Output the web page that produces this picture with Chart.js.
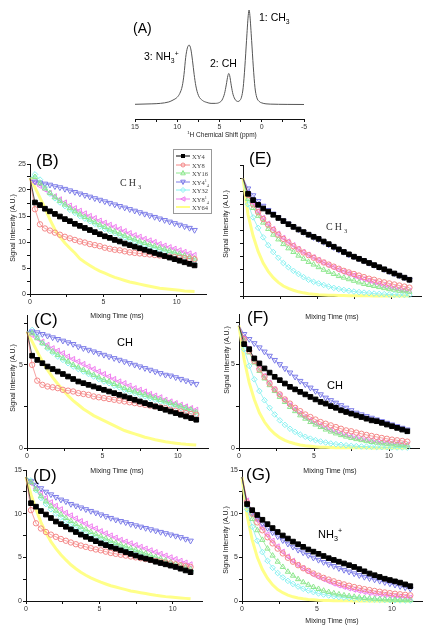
<!DOCTYPE html>
<html>
<head>
<meta charset="utf-8">
<script src="https://cdn.jsdelivr.net/npm/chart.js@4/dist/chart.umd.min.js"></script>
<style>
  body { margin: 0; background: #fff; width: 435px; height: 636px; position: relative; overflow: hidden;
         font-family: "Liberation Sans", Arial, sans-serif; }
  canvas { position: absolute; }
  .t { position: absolute; white-space: nowrap; color: #000; line-height: 1; }
  .lbl { font-size: 17px; }
  .serif { font-family: "Liberation Serif", "Times New Roman", serif; }
  .yt { position: absolute; white-space: nowrap; font-size: 7px; color: #222; transform: translate(-50%, -50%) rotate(-90deg); }
  .xt { position: absolute; white-space: nowrap; font-size: 7px; color: #222; transform: translateX(-50%); }
  .legend { position: absolute; left: 173px; top: 149px; width: 37px; height: 63px; border: 1px solid #999; background: #fff; }
  .row { position: absolute; left: 2px; height: 8px; font-size: 6.5px; color: #444; }
  .row svg { position: absolute; left: 0; top: 0; }
  .row span { position: absolute; left: 16px; top: 1px; white-space: nowrap; }
  sub, sup { font-size: 65%; line-height: 0; }
</style>
</head>
<body>
<script>
// spectrum (A)
const shiftPpm = [15, 13, 12, 11, 10.5, 10, 9.7, 9.4, 9.2, 9.0, 8.8, 8.6, 8.4, 8.2, 8.0, 7.8, 7.5, 7.0, 6.5, 6.0,
  5.5, 5.0, 4.7, 4.4, 4.2, 4.0, 3.9, 3.8, 3.6, 3.4, 3.1, 2.8, 2.6, 2.4, 2.2, 2.0, 1.8, 1.6, 1.5, 1.4,
  1.2, 1.0, 0.8, 0.6, 0.3, 0, -0.5, -1, -2, -3, -5];
const spectrum = [0.005, 0.01, 0.015, 0.03, 0.05, 0.08, 0.12, 0.2, 0.32, 0.5, 0.6, 0.63, 0.59, 0.47, 0.32, 0.2, 0.1, 0.045, 0.025, 0.015,
  0.015, 0.025, 0.05, 0.12, 0.21, 0.31, 0.33, 0.31, 0.2, 0.11, 0.05, 0.035, 0.045, 0.08, 0.18, 0.4, 0.68, 0.94, 1.0, 0.94,
  0.68, 0.4, 0.18, 0.08, 0.035, 0.02, 0.01, 0.007, 0.005, 0.004, 0.003];

// mixing times (ms)
const mixTime = [0, 0.34, 0.68, 1.02, 1.36, 1.70, 2.04, 2.38, 2.72, 3.06, 3.40, 3.74, 4.08, 4.42, 4.76, 5.10, 5.44,
  5.78, 6.12, 6.46, 6.80, 7.14, 7.48, 7.82, 8.16, 8.50, 8.84, 9.18, 9.52, 9.86, 10.20, 10.54, 10.88, 11.22];

const seriesNames = ["XY4", "XY8", "XY16", "XY4\u00b9\u2084", "XY32", "XY8\u00b9\u2084", "XY64"];

// (B) CH3
const B_XY4  = [22.3, 17.6, 17.1, 16.4, 15.9, 15.4, 14.9, 14.4, 14.0, 13.5, 13.1, 12.7, 12.3, 11.9, 11.5, 11.1, 10.8, 10.4, 10.1, 9.7, 9.4, 9.1, 8.8, 8.5, 8.2, 7.9, 7.6, 7.3, 7.0, 6.7, 6.4, 6.1, 5.8, 5.5];
const B_XY8  = [22.0, 16.3, 13.4, 12.6, 12.2, 11.8, 11.4, 11.0, 10.7, 10.4, 10.1, 9.9, 9.6, 9.4, 9.2, 8.9, 8.7, 8.5, 8.4, 8.2, 8.0, 7.9, 7.8, 7.7, 7.6, 7.5, 7.4, 7.3, 7.2, 7.1, 7.0, 6.9, 6.8, 6.7];
const B_XY16 = [22.3, 22.5, 21.3, 20.3, 19.4, 18.6, 17.9, 17.2, 16.5, 15.9, 15.3, 14.8, 14.3, 13.8, 13.3, 12.9, 12.4, 12.0, 11.6, 11.2, 10.8, 10.5, 10.1, 9.8, 9.5, 9.2, 8.9, 8.6, 8.3, 8.0, 7.7, 7.4, 7.1, 6.8];
const B_XY41 = [22.0, 21.6, 21.4, 21.2, 21.0, 20.7, 20.5, 20.2, 19.9, 19.6, 19.3, 19.0, 18.7, 18.4, 18.1, 17.8, 17.5, 17.2, 16.9, 16.6, 16.3, 16.0, 15.7, 15.4, 15.1, 14.8, 14.5, 14.2, 13.9, 13.6, 13.3, 13.0, 12.7, 12.3];
const B_XY32 = [22.3, 23.0, 22.0, 20.5, 19.3, 18.4, 17.6, 16.9, 16.2, 15.6, 15.0, 14.5, 14.0, 13.5, 13.0, 12.5, 12.1, 11.7, 11.3, 10.9, 10.5, 10.1, 9.8, 9.5, 9.1, 8.8, 8.5, 8.2, 7.9, 7.6, 7.3, 7.0, 6.7, 6.4];
const B_XY81 = [22.0, 21.5, 20.8, 20.1, 19.4, 18.8, 18.2, 17.6, 17.0, 16.5, 16.0, 15.5, 15.0, 14.6, 14.1, 13.7, 13.3, 12.9, 12.5, 12.1, 11.7, 11.3, 11.0, 10.6, 10.3, 10.0, 9.6, 9.3, 9.0, 8.7, 8.4, 8.1, 7.8, 7.5];
const B_XY64 = [22.3, 20.5, 18.5, 16.5, 14.3, 12.4, 11.0, 9.8, 8.8, 7.9, 6.8, 6.1, 5.5, 4.9, 4.4, 4.0, 3.6, 3.2, 2.9, 2.6, 2.3, 2.1, 1.9, 1.7, 1.5, 1.3, 1.1, 1.0, 0.9, 0.8, 0.7, 0.6, 0.55, 0.5];

// (C) CH
const C_XY4  = [7.0, 5.55, 5.3, 5.1, 4.9, 4.75, 4.6, 4.45, 4.3, 4.15, 4.0, 3.9, 3.8, 3.7, 3.6, 3.5, 3.4, 3.3, 3.2, 3.1, 3.0, 2.9, 2.8, 2.7, 2.6, 2.5, 2.4, 2.3, 2.2, 2.1, 2.0, 1.9, 1.8, 1.7];
const C_XY8  = [7.0, 5.0, 4.05, 3.8, 3.7, 3.65, 3.6, 3.5, 3.45, 3.4, 3.3, 3.25, 3.2, 3.1, 3.05, 3.0, 2.95, 2.9, 2.85, 2.8, 2.75, 2.7, 2.65, 2.6, 2.55, 2.5, 2.45, 2.4, 2.3, 2.25, 2.2, 2.1, 2.05, 2.0];
const C_XY16 = [7.0, 6.9, 6.6, 6.3, 6.05, 5.8, 5.6, 5.4, 5.2, 5.0, 4.85, 4.7, 4.55, 4.4, 4.25, 4.1, 4.0, 3.85, 3.75, 3.6, 3.5, 3.4, 3.3, 3.2, 3.1, 3.0, 2.9, 2.8, 2.7, 2.6, 2.5, 2.4, 2.3, 2.15];
const C_XY41 = [7.0, 7.0, 6.95, 6.85, 6.75, 6.65, 6.55, 6.45, 6.35, 6.25, 6.1, 6.0, 5.9, 5.8, 5.7, 5.6, 5.5, 5.4, 5.3, 5.2, 5.1, 5.0, 4.9, 4.8, 4.7, 4.6, 4.5, 4.4, 4.35, 4.25, 4.15, 4.05, 3.95, 3.85];
const C_XY32 = [7.0, 7.1, 6.7, 6.3, 6.0, 5.75, 5.5, 5.3, 5.1, 4.9, 4.75, 4.6, 4.45, 4.3, 4.15, 4.0, 3.9, 3.75, 3.65, 3.5, 3.4, 3.3, 3.2, 3.1, 3.0, 2.9, 2.8, 2.7, 2.6, 2.5, 2.4, 2.3, 2.2, 2.05];
const C_XY81 = [7.0, 6.8, 6.6, 6.4, 6.2, 6.0, 5.85, 5.7, 5.5, 5.35, 5.2, 5.05, 4.9, 4.75, 4.6, 4.45, 4.3, 4.15, 4.0, 3.9, 3.75, 3.6, 3.5, 3.4, 3.25, 3.15, 3.05, 2.9, 2.8, 2.7, 2.6, 2.5, 2.4, 2.3];
const C_XY64 = [7.0, 6.4, 5.8, 5.2, 4.7, 4.25, 3.85, 3.5, 3.15, 2.85, 2.6, 2.35, 2.15, 1.95, 1.8, 1.65, 1.5, 1.35, 1.2, 1.05, 0.95, 0.85, 0.75, 0.65, 0.58, 0.5, 0.44, 0.38, 0.33, 0.29, 0.25, 0.22, 0.2, 0.18];

// (D) NH3+
const D_XY4  = [14.2, 11.2, 10.8, 10.3, 9.9, 9.5, 9.1, 8.8, 8.5, 8.2, 7.9, 7.6, 7.35, 7.1, 6.85, 6.6, 6.4, 6.2, 6.0, 5.8, 5.6, 5.4, 5.2, 5.0, 4.85, 4.7, 4.5, 4.35, 4.2, 4.05, 3.9, 3.7, 3.5, 3.3];
const D_XY8  = [14.2, 10.4, 8.9, 8.3, 7.9, 7.6, 7.35, 7.1, 6.9, 6.7, 6.5, 6.35, 6.2, 6.05, 5.9, 5.8, 5.65, 5.5, 5.4, 5.3, 5.2, 5.1, 5.0, 4.9, 4.8, 4.7, 4.6, 4.5, 4.4, 4.3, 4.2, 4.1, 4.0, 3.9];
const D_XY16 = [14.2, 13.6, 12.8, 12.0, 11.4, 10.85, 10.35, 9.9, 9.5, 9.15, 8.8, 8.5, 8.2, 7.9, 7.65, 7.4, 7.15, 6.9, 6.65, 6.45, 6.25, 6.05, 5.85, 5.65, 5.45, 5.25, 5.05, 4.85, 4.65, 4.45, 4.25, 4.05, 3.85, 3.65];
const D_XY41 = [14.2, 13.7, 13.3, 12.9, 12.5, 12.2, 11.9, 11.6, 11.4, 11.1, 10.9, 10.7, 10.5, 10.3, 10.1, 9.9, 9.7, 9.5, 9.3, 9.15, 9.0, 8.8, 8.65, 8.5, 8.35, 8.2, 8.05, 7.9, 7.75, 7.6, 7.45, 7.3, 7.1, 6.9];
const D_XY32 = [14.2, 13.8, 12.7, 11.8, 11.1, 10.5, 10.0, 9.55, 9.15, 8.8, 8.45, 8.15, 7.85, 7.55, 7.3, 7.05, 6.8, 6.55, 6.35, 6.15, 5.95, 5.75, 5.55, 5.35, 5.15, 4.95, 4.75, 4.6, 4.4, 4.2, 4.0, 3.8, 3.6, 3.4];
const D_XY81 = [14.2, 13.5, 12.9, 12.3, 11.8, 11.3, 10.9, 10.5, 10.1, 9.8, 9.45, 9.15, 8.85, 8.55, 8.3, 8.0, 7.75, 7.5, 7.25, 7.0, 6.8, 6.6, 6.4, 6.2, 6.0, 5.8, 5.6, 5.4, 5.2, 5.0, 4.8, 4.6, 4.4, 4.2];
const D_XY64 = [14.2, 12.2, 10.5, 9.0, 7.8, 6.8, 6.0, 5.3, 4.7, 4.15, 3.7, 3.3, 2.95, 2.65, 2.4, 2.15, 1.95, 1.75, 1.6, 1.45, 1.3, 1.15, 1.05, 0.95, 0.85, 0.75, 0.65, 0.58, 0.5, 0.45, 0.4, 0.35, 0.3, 0.25];

// (E) CH3
const E_XY4  = [22.5, 19.5, 18.3, 17.4, 16.7, 16.1, 15.5, 14.9, 14.3, 13.7, 13.2, 12.7, 12.2, 11.7, 11.3, 10.9, 10.4, 9.9, 9.4, 8.9, 8.4, 7.95, 7.5, 7.1, 6.7, 6.3, 5.9, 5.5, 5.1, 4.7, 4.3, 3.9, 3.5, 3.1];
const E_XY8  = [22.5, 19.3, 17.5, 16.0, 14.7, 13.6, 12.6, 11.7, 10.9, 10.2, 9.5, 8.9, 8.3, 7.8, 7.3, 6.8, 6.4, 6.0, 5.6, 5.2, 4.8, 4.5, 4.2, 3.9, 3.6, 3.3, 3.1, 2.8, 2.6, 2.4, 2.2, 2.0, 1.8, 1.6];
const E_XY16 = [22.5, 18.5, 16.8, 15.3, 14.0, 12.8, 11.7, 10.8, 9.9, 9.1, 8.4, 7.7, 7.1, 6.5, 6.0, 5.5, 5.0, 4.6, 4.2, 3.8, 3.5, 3.2, 2.9, 2.6, 2.3, 2.1, 1.9, 1.7, 1.5, 1.3, 1.2, 1.0, 0.9, 0.8];
const E_XY41 = [22.5, 20.5, 19.2, 18.1, 17.2, 16.4, 15.7, 15.0, 14.4, 13.8, 13.2, 12.7, 12.2, 11.7, 11.2, 10.8, 10.3, 9.8, 9.3, 8.8, 8.4, 7.9, 7.5, 7.1, 6.7, 6.3, 5.9, 5.5, 5.1, 4.7, 4.3, 3.9, 3.5, 3.1];
const E_XY32 = [22.5, 17.5, 15.0, 13.0, 11.2, 9.7, 8.4, 7.3, 6.3, 5.5, 4.8, 4.2, 3.6, 3.1, 2.7, 2.4, 2.1, 1.8, 1.55, 1.35, 1.15, 1.0, 0.85, 0.75, 0.65, 0.55, 0.47, 0.4, 0.35, 0.3, 0.26, 0.22, 0.19, 0.16];
const E_XY81 = [22.5, 19.6, 17.8, 16.2, 14.9, 13.8, 12.8, 11.9, 11.1, 10.4, 9.7, 9.0, 8.4, 7.9, 7.4, 6.9, 6.4, 5.9, 5.5, 5.0, 4.6, 4.25, 3.9, 3.5, 3.2, 2.9, 2.6, 2.3, 2.0, 1.8, 1.55, 1.35, 1.15, 1.0];
const E_XY64 = [22.5, 15.5, 11.5, 8.5, 6.3, 4.7, 3.5, 2.6, 1.9, 1.45, 1.1, 0.8, 0.6, 0.45, 0.35, 0.25, 0.2, 0.15, 0.12, 0.1, 0.08, 0.06, 0.05, 0.04, 0.03, 0.03, 0.02, 0.02, 0.02, 0.01, 0.01, 0.01, 0.01, 0.01];

// (F) CH
const F_XY4  = [7.3, 6.2, 5.9, 5.35, 5.05, 4.75, 4.5, 4.25, 4.05, 3.85, 3.65, 3.5, 3.35, 3.2, 3.05, 2.9, 2.75, 2.65, 2.5, 2.4, 2.25, 2.15, 2.05, 1.95, 1.85, 1.75, 1.65, 1.6, 1.5, 1.4, 1.3, 1.2, 1.1, 1.0];
const F_XY8  = [7.3, 6.5, 5.8, 5.2, 4.7, 4.25, 3.85, 3.5, 3.2, 2.9, 2.65, 2.4, 2.2, 2.0, 1.85, 1.7, 1.55, 1.45, 1.35, 1.25, 1.15, 1.05, 1.0, 0.92, 0.85, 0.78, 0.72, 0.66, 0.6, 0.55, 0.5, 0.46, 0.42, 0.38];
const F_XY16 = [7.3, 6.4, 5.7, 5.1, 4.6, 4.15, 3.75, 3.4, 3.05, 2.75, 2.45, 2.2, 1.95, 1.75, 1.55, 1.4, 1.25, 1.1, 0.98, 0.87, 0.77, 0.68, 0.6, 0.53, 0.47, 0.41, 0.36, 0.32, 0.28, 0.25, 0.22, 0.19, 0.17, 0.15];
const F_XY41 = [7.3, 6.8, 6.5, 6.25, 6.0, 5.75, 5.5, 5.25, 5.0, 4.75, 4.5, 4.25, 4.0, 3.8, 3.6, 3.4, 3.2, 3.0, 2.85, 2.7, 2.55, 2.4, 2.25, 2.1, 2.0, 1.9, 1.8, 1.7, 1.6, 1.5, 1.4, 1.3, 1.2, 1.1];
const F_XY32 = [7.3, 5.9, 4.9, 4.1, 3.4, 2.85, 2.4, 2.0, 1.65, 1.38, 1.15, 0.96, 0.8, 0.67, 0.56, 0.47, 0.39, 0.33, 0.27, 0.23, 0.19, 0.16, 0.13, 0.11, 0.09, 0.08, 0.07, 0.06, 0.05, 0.04, 0.04, 0.03, 0.03, 0.02];
const F_XY81 = [7.3, 6.6, 5.9, 5.3, 4.75, 4.3, 3.9, 3.5, 3.15, 2.85, 2.55, 2.3, 2.05, 1.85, 1.65, 1.5, 1.35, 1.2, 1.08, 0.97, 0.87, 0.78, 0.7, 0.63, 0.56, 0.5, 0.45, 0.4, 0.36, 0.32, 0.29, 0.26, 0.23, 0.2];
const F_XY64 = [7.3, 5.3, 3.9, 2.9, 2.1, 1.55, 1.15, 0.85, 0.62, 0.46, 0.34, 0.25, 0.18, 0.13, 0.1, 0.07, 0.05, 0.04, 0.03, 0.02, 0.02, 0.01, 0.01, 0.01, 0.01, 0.01, 0, 0, 0, 0, 0, 0, 0, 0];

// (G) NH3+
const G_XY4  = [14.2, 11.1, 10.4, 9.85, 9.3, 8.8, 8.35, 7.9, 7.5, 7.15, 6.8, 6.5, 6.2, 5.9, 5.65, 5.4, 5.15, 4.9, 4.7, 4.5, 4.3, 4.1, 3.9, 3.65, 3.4, 3.15, 2.95, 2.75, 2.55, 2.4, 2.25, 2.1, 1.9, 1.7];
const G_XY8  = [14.2, 11.3, 10.0, 9.0, 8.1, 7.3, 6.6, 6.0, 5.45, 4.95, 4.5, 4.1, 3.75, 3.45, 3.15, 2.9, 2.65, 2.45, 2.25, 2.07, 1.9, 1.75, 1.6, 1.48, 1.36, 1.25, 1.15, 1.06, 0.98, 0.9, 0.83, 0.77, 0.71, 0.65];
const G_XY16 = [14.2, 11.0, 9.4, 8.1, 7.0, 6.0, 5.2, 4.5, 3.9, 3.35, 2.9, 2.5, 2.15, 1.85, 1.6, 1.38, 1.18, 1.02, 0.88, 0.76, 0.65, 0.56, 0.48, 0.41, 0.35, 0.3, 0.26, 0.22, 0.19, 0.16, 0.14, 0.12, 0.1, 0.09];
const G_XY41 = [14.2, 11.0, 10.1, 9.5, 8.9, 8.35, 7.85, 7.4, 6.95, 6.55, 6.2, 5.85, 5.55, 5.25, 4.95, 4.7, 4.45, 4.2, 4.0, 3.75, 3.55, 3.35, 3.15, 2.95, 2.75, 2.6, 2.45, 2.3, 2.15, 2.0, 1.85, 1.7, 1.55, 1.4];
const G_XY32 = [14.2, 10.5, 8.5, 6.9, 5.6, 4.6, 3.8, 3.2, 2.7, 2.3, 1.95, 1.65, 1.4, 1.2, 1.02, 0.87, 0.74, 0.63, 0.54, 0.46, 0.39, 0.33, 0.28, 0.24, 0.2, 0.17, 0.15, 0.13, 0.11, 0.09, 0.08, 0.07, 0.06, 0.05];
const G_XY81 = [14.2, 11.5, 10.3, 9.3, 8.4, 7.6, 6.9, 6.25, 5.65, 5.1, 4.6, 4.15, 3.75, 3.4, 3.05, 2.75, 2.5, 2.25, 2.0, 1.8, 1.62, 1.45, 1.3, 1.17, 1.05, 0.94, 0.84, 0.75, 0.67, 0.6, 0.54, 0.48, 0.43, 0.38];
const G_XY64 = [14.2, 9.8, 7.0, 5.0, 3.6, 2.6, 1.85, 1.3, 0.95, 0.68, 0.48, 0.35, 0.25, 0.18, 0.13, 0.09, 0.07, 0.05, 0.04, 0.03, 0.02, 0.02, 0.01, 0.01, 0.01, 0.01, 0, 0, 0, 0, 0, 0, 0, 0];

// one style per sequence (Origin default symbol order), faded like the print
const markStyles = [
  { color: "#000000", line: "rgba(0,0,0,0.8)",       shape: "rect",     rot: 0,   size: 3.3, fill: true,  width: 0.8 },
  { color: "#f48888", line: "rgba(240,110,110,0.8)", shape: "circle",   rot: 0,   size: 2.7, fill: false, width: 0.8 },
  { color: "#8ee88e", line: "rgba(120,220,120,0.8)", shape: "triangle", rot: 0,   size: 3.0, fill: false, width: 0.8 },
  { color: "#7c7ce8", line: "rgba(100,100,225,0.8)", shape: "triangle", rot: 180, size: 3.2, fill: false, width: 0.8 },
  { color: "#88f2f2", line: "rgba(110,235,235,0.8)", shape: "rectRot",  rot: 0,   size: 2.8, fill: false, width: 0.8 },
  { color: "#f07ef0", line: "rgba(235,105,235,0.8)", shape: "triangle", rot: -90, size: 3.0, fill: false, width: 0.8 },
  { color: "#ffff8a", line: "#ffff88",               shape: "triangle", rot: 90,  size: 0,   fill: false, width: 3 }
];

Chart.defaults.font.family = '"Liberation Sans", Arial, sans-serif';
Chart.defaults.font.size = 7;
Chart.defaults.color = "#333";

function makeCanvas(left, top, w, h) {
  const c = document.createElement("canvas");
  c.width = w; c.height = h;
  c.style.left = left + "px"; c.style.top = top + "px";
  c.style.width = w + "px"; c.style.height = h + "px";
  document.body.appendChild(c);
  return c;
}

function seriesSet(list) {
  return list.map((vals, k) => {
    const st = markStyles[k];
    return {
      label: seriesNames[k],
      data: mixTime.map((t, i) => ({ x: t, y: vals[i] })),
      borderColor: st.line,
      pointBorderColor: st.color,
      backgroundColor: st.fill ? st.color : "rgba(255,255,255,0)",
      borderWidth: st.width,
      pointStyle: st.shape,
      pointRotation: st.rot,
      // no symbol on the t = 0 point
      pointRadius: ctx => (ctx.dataIndex === 0 ? 0 : st.size),
      pointBorderWidth: 1,
      tension: 0,
      clip: false
    };
  });
}

function axis(min, max, showLabels, fit) {
  return {
    type: "linear", min: min, max: max,
    afterFit: fit,
    afterBuildTicks: s => { s.ticks = s.ticks.filter(t => Math.abs(t.value % 2.5) < 1e-6); },
    ticks: { stepSize: 2.5, autoSkip: false, maxRotation: 0, padding: 1,
             callback: v => (showLabels && v % 5 === 0) ? v : "" },
    grid: { drawOnChartArea: false, tickLength: 3, color: "#111" },
    border: { color: "#111", width: 1 }
  };
}

// chart area boxes: [left, top, right, bottom]
const panels = [
  { box: [30, 164, 206, 294], yMax: 25, sets: [B_XY4, B_XY8, B_XY16, B_XY41, B_XY32, B_XY81, B_XY64], xl: true,  yl: true },
  { box: [27, 315, 208, 448], yMax: 8,  sets: [C_XY4, C_XY8, C_XY16, C_XY41, C_XY32, C_XY81, C_XY64], xl: true,  yl: true },
  { box: [26, 470, 202, 601], yMax: 15, sets: [D_XY4, D_XY8, D_XY16, D_XY41, D_XY32, D_XY81, D_XY64], xl: true,  yl: true },
  { box: [243, 165, 421, 296], yMax: 25, sets: [E_XY4, E_XY8, E_XY16, E_XY41, E_XY32, E_XY81, E_XY64], xl: false, yl: false },
  { box: [239, 314, 419, 448], yMax: 8,  sets: [F_XY4, F_XY8, F_XY16, F_XY41, F_XY32, F_XY81, F_XY64], xl: true,  yl: true },
  { box: [242, 470, 422, 601], yMax: 15, sets: [G_XY4, G_XY8, G_XY16, G_XY41, G_XY32, G_XY81, G_XY64], xl: true,  yl: true }
];

panels.forEach(p => {
  const [l, t, r, b] = p.box;
  const padL = 30, padT = 8, padR = 8, axH = 16;
  const cv = makeCanvas(l - padL, t - padT, (r - l) + padL + padR, (b - t) + padT + axH);
  new Chart(cv, {
    type: "line",
    data: { datasets: seriesSet(p.sets) },
    options: {
      responsive: false, animation: false,
      layout: { padding: { top: padT, right: padR, left: 0, bottom: 0 } },
      plugins: { legend: { display: false }, tooltip: { enabled: false } },
      scales: {
        x: axis(0, 12, p.xl, s => { s.height = axH; }),
        y: axis(0, p.yMax, p.yl, s => { s.width = padL; })
      }
    }
  });
});

// (A) spectrum
(function () {
  const cv = makeCanvas(105, 2, 230, 140);
  const xa = axis(-5, 15, true, s => { s.height = 23; });
  xa.reverse = true;
  new Chart(cv, {
    type: "line",
    data: { datasets: [{
      data: shiftPpm.map((x, i) => ({ x: x, y: spectrum[i] })),
      borderColor: "#555", borderWidth: 1, pointRadius: 0,
      cubicInterpolationMode: "monotone"
    }] },
    options: {
      responsive: false, animation: false,
      layout: { padding: { top: 8, right: 31, left: 30, bottom: 0 } },
      plugins: { legend: { display: false }, tooltip: { enabled: false } },
      scales: { x: xa, y: { display: false, min: -0.15, max: 1.0 } }
    }
  });
})();
</script>

<!-- panel A text -->
<div class="t" style="left:133px;top:21px;font-size:14px;">(A)</div>
<div class="t" style="left:144px;top:51px;font-size:10.5px;">3: NH<sub>3</sub><sup>+</sup></div>
<div class="t" style="left:210px;top:58px;font-size:10.5px;">2: CH</div>
<div class="t" style="left:259px;top:12px;font-size:10.5px;">1: CH<sub>3</sub></div>
<div class="xt" style="left:222px;top:131px;font-size:6.5px;"><sup>1</sup>H Chemical Shift (ppm)</div>

<!-- panel letters -->
<div class="t lbl" style="left:36px;top:152px;">(B)</div>
<div class="t lbl" style="left:34px;top:311px;">(C)</div>
<div class="t lbl" style="left:33px;top:467px;">(D)</div>
<div class="t lbl" style="left:249px;top:150px;">(E)</div>
<div class="t lbl" style="left:247px;top:309px;">(F)</div>
<div class="t lbl" style="left:246px;top:466px;">(G)</div>

<!-- group labels -->
<div class="t serif" style="left:120px;top:178px;font-size:10px;letter-spacing:2px;color:#333;">CH<sub>3</sub></div>
<div class="t serif" style="left:326px;top:222px;font-size:10px;letter-spacing:2px;color:#333;">CH<sub>3</sub></div>
<div class="t" style="left:117px;top:337px;font-size:11px;">CH</div>
<div class="t" style="left:327px;top:380px;font-size:11px;">CH</div>
<div class="t" style="left:318px;top:529px;font-size:11px;">NH<sub>3</sub><sup>+</sup></div>

<!-- axis titles -->
<div class="yt" style="left:12px;top:228px;">Signal Intensity (A.U.)</div>
<div class="yt" style="left:12px;top:378px;">Signal Intensity (A.U.)</div>
<div class="yt" style="left:225px;top:224px;">Signal Intensity (A.U.)</div>
<div class="yt" style="left:226px;top:360px;">Signal Intensity (A.U.)</div>
<div class="yt" style="left:225px;top:540px;">Signal Intensity (A.U.)</div>
<div class="xt" style="left:117px;top:312px;">Mixing Time (ms)</div>
<div class="xt" style="left:117px;top:467px;">Mixing Time (ms)</div>
<div class="xt" style="left:332px;top:313px;">Mixing Time (ms)</div>
<div class="xt" style="left:330px;top:467px;">Mixing Time (ms)</div>
<div class="xt" style="left:332px;top:617px;">Mixing Time (ms)</div>

<div class="legend serif" id="legend"></div>
<script>
// legend rows for panel B
(function () {
  const lg = document.getElementById("legend");
  const shapes = [
    '<rect x="5" y="2" width="4" height="4" fill="#000"/>',
    '<circle cx="7" cy="4" r="2" fill="none" stroke="#f48888"/>',
    '<polygon points="7,1.5 9.3,5.8 4.7,5.8" fill="none" stroke="#8ee88e"/>',
    '<polygon points="7,6.5 9.3,2.2 4.7,2.2" fill="none" stroke="#7c7ce8"/>',
    '<polygon points="7,1.5 9.5,4 7,6.5 4.5,4" fill="none" stroke="#88f2f2"/>',
    '<polygon points="4.7,4 9,1.8 9,6.2" fill="none" stroke="#f07ef0"/>',
    ''
  ];
  const labels = ["XY4", "XY8", "XY16", "XY4<sup>1</sup><sub>4</sub>", "XY32", "XY8<sup>1</sup><sub>4</sub>", "XY64"];
  seriesNames.forEach((n, k) => {
    const st = markStyles[k];
    const row = document.createElement("div");
    row.className = "row";
    row.style.top = (2 + k * 8.5) + "px";
    row.innerHTML = '<svg width="15" height="8"><line x1="0" y1="4" x2="14" y2="4" stroke="' + st.color +
      '" stroke-width="' + (k === 6 ? 2 : 1) + '"/>' + shapes[k] + '</svg><span>' + labels[k] + '</span>';
    lg.appendChild(row);
  });
})();
</script>
</body>
</html>
